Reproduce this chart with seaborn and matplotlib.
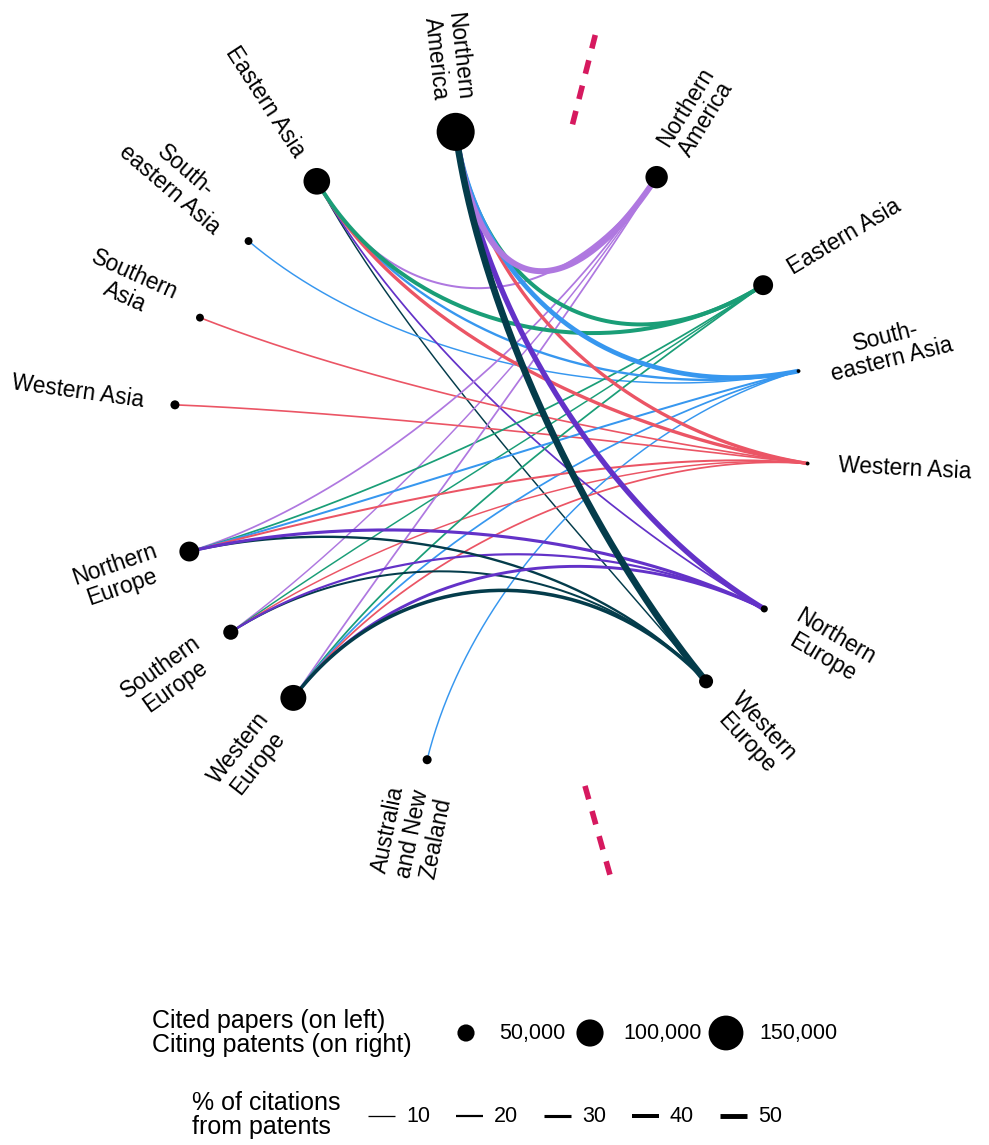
import numpy as np
import pandas as pd
import seaborn as sns
import matplotlib.pyplot as plt

# regions on the left (cited papers) and on the right (citing patents)
left_regions = ["Northern America", "Eastern Asia", "South-eastern Asia", "Southern Asia", "Western Asia",
                "Northern Europe", "Southern Europe", "Western Europe", "Australia and New Zealand"]
left_groups = ["Americas", "Asia", "Asia", "Asia", "Asia", "Europe", "Europe", "Europe", "Oceania"]
cited_papers = [174000, 97000, 19000, 19000, 22000, 62000, 42000, 93000, 22000]

right_regions = ["Northern America", "Eastern Asia", "South-eastern Asia", "Western Asia",
                 "Northern Europe", "Western Europe"]
right_groups = ["Americas", "Asia", "Asia", "Asia", "Europe", "Europe"]
citing_patents = [74000, 62000, 10000, 10000, 17000, 38000]

# links: cited region (left) -> citing region (right), % of citations from patents
edge_from = ["Northern America"] * 6 + ["Eastern Asia"] * 6 + ["South-eastern Asia", "Southern Asia", "Western Asia"] \
    + ["Northern Europe"] * 6 + ["Southern Europe"] * 5 + ["Western Europe"] * 6 + ["Australia and New Zealand"]
edge_to = ["Northern America", "Eastern Asia", "South-eastern Asia", "Western Asia", "Northern Europe", "Western Europe",
           "Northern America", "Eastern Asia", "South-eastern Asia", "Western Asia", "Northern Europe", "Western Europe",
           "South-eastern Asia", "Western Asia", "Western Asia",
           "Northern America", "Eastern Asia", "South-eastern Asia", "Western Asia", "Northern Europe", "Western Europe",
           "Northern America", "Eastern Asia", "Western Asia", "Northern Europe", "Western Europe",
           "Northern America", "Eastern Asia", "South-eastern Asia", "Western Asia", "Northern Europe", "Western Europe",
           "South-eastern Asia"]
pct_patents = [62, 40, 48, 33, 55, 70,
               18, 40, 22, 33, 15, 12,
               12, 14, 14,
               15, 15, 18, 18, 30, 22,
               12, 12, 12, 20, 18,
               15, 15, 15, 15, 28, 35,
               12]

size_breaks = [50000, 100000, 150000]
width_breaks = [10, 20, 30, 40, 50]

labels = {"Northern America": "Northern\nAmerica", "Eastern Asia": "Eastern Asia",
          "South-eastern Asia": "South-\neastern Asia", "Southern Asia": "Southern\nAsia",
          "Western Asia": "Western Asia", "Northern Europe": "Northern\nEurope",
          "Southern Europe": "Southern\nEurope", "Western Europe": "Western\nEurope",
          "Australia and New Zealand": "Australia\nand New\nZealand"}

colors = {"Northern America": "#AF78E0", "Eastern Asia": "#1A9E77", "South-eastern Asia": "#3797EF",
          "Western Asia": "#EB5565", "Northern Europe": "#6332C8", "Western Europe": "#043C4B"}

sns.set_style("white")
plt.rcParams["font.family"] = ["Liberation Sans", "DejaVu Sans"]
plt.rcParams["text.color"] = "black"

W, H = 989, 1145
fig = plt.figure(figsize=(W / 100, H / 100), dpi=100)
ax = fig.add_axes([0, 0, 1, 1])

cx, cy, R = 490, 448, 318


def side_angles(groups, start, step, gap):
    angs, a = [], start
    for i, g in enumerate(groups):
        if i > 0:
            a += step if g == groups[i - 1] else gap
        angs.append(a)
    return angs


def polar(ang, r):
    t = np.radians(ang)
    return cx + r * np.cos(t), cy - r * np.sin(t)


left = pd.DataFrame({"region": left_regions, "group": left_groups, "value": cited_papers,
                     "angle": side_angles(left_groups, 96.2, 16.4, 26.8)})
right = pd.DataFrame({"region": right_regions, "group": right_groups, "value": citing_patents,
                      "angle": side_angles(right_groups, 58.4, -16.8, -27.6)})
for df in (left, right):
    df["x"], df["y"] = polar(df["angle"], R)
    # each region bends towards a hub of its continent group
    hub = df.groupby("group")["angle"].transform("mean")
    df["hx"], df["hy"] = polar(hub, 0.2 * R)


def diam(v):
    return np.maximum(3, -7 + 0.108 * np.sqrt(np.asarray(v, dtype=float)))


def lw(p):
    return (0.4 + 0.09 * np.asarray(p, dtype=float)) * 0.72


def handle(P, Hb):
    u = Hb - P
    return P + 0.57 * R * u / np.hypot(*u)


# edges: cubic bezier, handles towards the group hubs, with a bit of tension
edges = pd.DataFrame({"src": edge_from, "dst": edge_to, "pct": pct_patents})
edges = edges.sort_values("pct", kind="stable")
beta = 0.92
t = np.linspace(0, 1, 150)[:, None]
for _, e in edges.iterrows():
    s = left[left.region == e.src].iloc[0]
    d = right[right.region == e.dst].iloc[0]
    P0 = np.array([s.x, s.y])
    P3 = np.array([d.x, d.y])
    P1 = beta * handle(P0, np.array([s.hx, s.hy])) + (1 - beta) * (P0 + (P3 - P0) / 3)
    P2 = beta * handle(P3, np.array([d.hx, d.hy])) + (1 - beta) * (P0 + 2 * (P3 - P0) / 3)
    pts = (1 - t) ** 3 * P0 + 3 * (1 - t) ** 2 * t * P1 + 3 * (1 - t) * t ** 2 * P2 + t ** 3 * P3
    ax.plot(pts[:, 0], pts[:, 1], color=colors[e.dst], lw=float(lw(e.pct)),
            solid_capstyle="butt", zorder=2)

# separators between the two sides
top = (left.angle.iloc[0] + right.angle.iloc[0]) / 2 - 1.6
bottom = (left.angle.iloc[-1] + right.angle.iloc[-1] + 360) / 2
for ang, r0, r1 in [(top, R + 16, R + 110), (bottom, R + 33, R + 131)]:
    x0, y0 = polar(ang, r0)
    x1, y1 = polar(ang, r1)
    ax.plot([x0, x1], [y0, y1], color="#D6195F", lw=4.0, linestyle=(0, (2.5, 2.2)), zorder=1)

# nodes
nodes = pd.concat([left, right], ignore_index=True)
sns.scatterplot(data=nodes, x="x", y="y", s=(0.72 * diam(nodes["value"])) ** 2,
                color="black", edgecolor="none", legend=False, ax=ax, zorder=3)

# region labels
fs = 16.3
for _, r in left.iterrows():
    lx, ly = polar(r.angle, R + 31)
    ax.text(lx, ly, labels[r.region], rotation=r.angle - 180, rotation_mode="anchor",
            ha="right", va="center", multialignment="center", fontsize=fs, linespacing=1.05)
for _, r in right.iterrows():
    lx, ly = polar(r.angle, R + 31)
    ax.text(lx, ly, labels[r.region], rotation=r.angle, rotation_mode="anchor",
            ha="left", va="center", multialignment="center", fontsize=fs, linespacing=1.05)

# legend: node size
tfs, lfs = 18, 15.5
ax.text(152, 1033, "Cited papers (on left)\nCiting patents (on right)", ha="left", va="center",
        fontsize=tfs, linespacing=1.05)
key_x = [466, 590, 726]
sns.scatterplot(x=key_x, y=[1033] * 3, s=(0.72 * diam(size_breaks)) ** 2, color="black",
                edgecolor="none", legend=False, ax=ax)
for kx, v in zip(key_x, size_breaks):
    ax.text(kx + 33, 1033, f"{v:,}", ha="left", va="center", fontsize=lfs)

# legend: line width
ax.text(192, 1115, "% of citations\nfrom patents", ha="left", va="center", fontsize=tfs, linespacing=1.05)
for i, p in enumerate(width_breaks):
    x0 = 368 + 88 * i
    ax.plot([x0, x0 + 27], [1116, 1116], color="black", lw=float(lw(p)), solid_capstyle="butt")
    ax.text(x0 + 38, 1116, str(p), ha="left", va="center", fontsize=lfs)

ax.set_xlim(0, W)
ax.set_ylim(H, 0)
ax.axis("off")
fig.savefig("out.png", dpi=100)
